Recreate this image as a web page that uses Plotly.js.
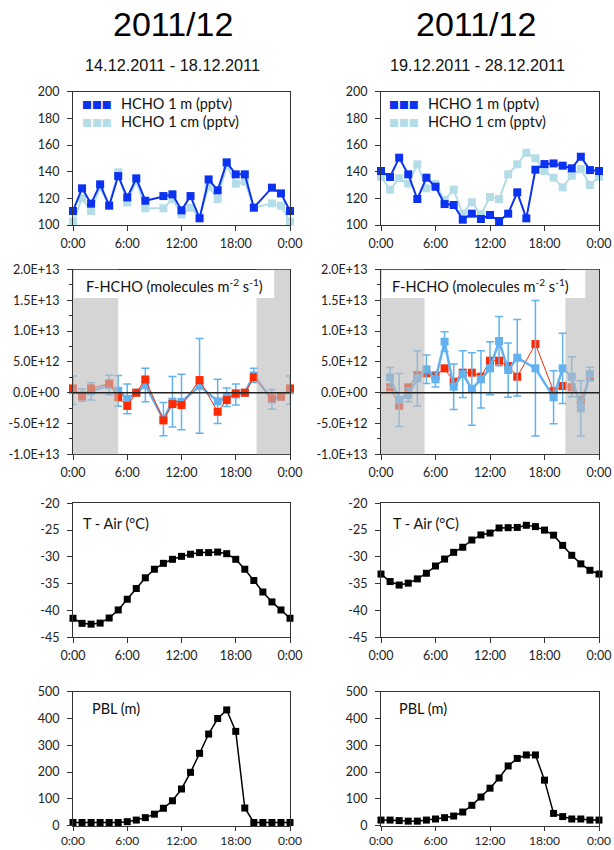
<!DOCTYPE html>
<html><head><meta charset="utf-8">
<script src="https://cdn.plot.ly/plotly-3.0.1.min.js"></script>
<style>html,body{margin:0;padding:0;background:#fff;}#chart{width:614px;height:850px;}</style>
</head><body><div id="chart"></div>
<script>
// ---------------- data ----------------
const hours = [0,1,2,3,4,5,6,7,8,9,10,11,12,13,14,15,16,17,18,19,20,21,22,23,24];
const hourTicks = [0,6,12,18,24];
const hourLabels = ['0:00','6:00','12:00','18:00','0:00'];

const titleText = '2011/12';
const periodLeft = '14.12.2011 - 18.12.2011';
const periodRight = '19.12.2011 - 28.12.2011';

// HCHO mixing ratio (pptv)
const hcho1mLeft  = [110.5,127.5,116,130.5,114.5,136.7,120.7,135,118.2,null,121.7,123,111,121.7,105,134.2,126,147,138,138,113,null,128,123.7,110.5];
const hcho1cmLeft = [102.5,120,110.5,128,115,139.5,117,133,112.5,null,112.5,119.5,108,113,106,128.7,119.5,145,131,132.5,113,null,116.2,114.5,102.5];
const hcho1mRight  = [140.5,136,150.5,138,119.5,135.5,128.7,115.7,115,104,108.5,104.5,107.5,103,108.5,124.5,105,141.5,145.7,146.2,144.5,142.5,151.2,141.2,140.5];
const hcho1cmRight = [136.2,126.5,135,131,145.5,127.5,130.7,118.7,126.5,108.5,117,108,121,119.5,138,145.5,154.2,150,140.5,135.5,128.2,137,142,130,136.2];
const hchoTicks = [100,120,140,160,180,200];

// F-HCHO flux (molecules m-2 s-1)
const fluxRedLeft  = [0.7e12,-0.6e12,0.7e12,null,1.5e12,-0.75e12,-2.15e12,0,2.15e12,null,-4.5e12,-1.85e12,-2.0e12,null,2.05e12,null,-3.1e12,-1.2e12,-0.1e12,0,2.5e12,null,-0.9e12,-0.65e12,0.7e12];
const fluxBlueLeft = [0.4e12,-0.4e12,0.2e12,null,1.25e12,0.3e12,-1.0e12,0,1.25e12,null,-4.3e12,-1.45e12,-1.5e12,null,1.1e12,null,-1.4e12,-0.75e12,-0.3e12,0,2.8e12,null,-1.1e12,-0.65e12,0.4e12];
const fluxErrLeft  = [2.3e12,1.0e12,1.4e12,null,1.6e12,2.5e12,2.4e12,0.3e12,2.7e12,null,2.7e12,4.1e12,4.5e12,null,7.7e12,null,3.6e12,1.5e12,1.7e12,0.3e12,1.15e12,null,1.6e12,0.3e12,2.3e12];
const fluxRedRight  = [null,0.87e12,-2.1e12,0.87e12,2.87e12,3.14e12,2.71e12,3.96e12,1.79e12,3.25e12,3.25e12,2.6e12,5.2e12,5.2e12,4.33e12,2.6e12,null,7.9e12,null,0.27e12,1.09e12,0.87e12,-1.19e12,2.5e12,null];
const fluxBlueRight = [null,2.5e12,-1.19e12,-0.37e12,2.33e12,3.8e12,2.17e12,8.28e12,0.97e12,3.03e12,0.6e12,2.17e12,3.96e12,8.39e12,3.68e12,5.68e12,null,3.96e12,null,-0.75e12,3.96e12,2.6e12,-2.54e12,3.03e12,null];
const fluxErrRight  = [null,1.6e12,4.3e12,1.1e12,4.5e12,2.3e12,1.25e12,1.6e12,3.7e12,3.8e12,5.9e12,4.65e12,4.3e12,4.0e12,4.4e12,6.2e12,null,11e12,null,4.3e12,5.7e12,3.25e12,4.5e12,1.1e12,null];
const fluxTicks = [-1e13,-5e12,0,5e12,1e13,1.5e13,2e13];
const fluxTickText = ['-1.0E+13','-5.0E+12','0.0E+00','5.0E+12','1.0E+13','1.5E+13','2.0E+13'];
const nightLeft  = [[0,5.0],[20.3,24]];
const nightRight = [[0,4.8],[20.3,24]];

// Air temperature (°C)
const tempLeft  = [-41.45,-42.4,-42.55,-42.35,-41.4,-39.9,-37.9,-35.9,-33.9,-32.3,-31.2,-30.45,-29.9,-29.5,-29.2,-29.2,-29.1,-29.4,-30.45,-32.3,-34.4,-36.55,-38.4,-39.9,-41.45];
const tempRight = [-33.2,-34.6,-35.25,-34.9,-34.1,-33.05,-31.7,-30.4,-29.15,-28.2,-26.85,-25.9,-25.55,-24.6,-24.55,-24.5,-24.1,-24.35,-25,-25.95,-27.85,-29.7,-31.3,-32.5,-33.2];
const tempTicks = [-45,-40,-35,-30,-25,-20];

// Boundary layer height (m)
const pblLeft  = [12,12,12,12,12,12,15,21,30,43,65,93,137,199,270,342,400,432,352,66,12,12,12,12,12];
const pblRight = [21,21,19,17,17,21,25,30,36,51,76,107,140,178,223,251,264,264,170,46,34,25,25,21,21];
const pblTicks = [0,100,200,300,400,500];

// ---------------- styling ----------------
const W = 614, H = 850;
const px = x => x / W;
const py = y => 1 - y / H;
const colL = [px(73), px(290)];
const colR = [px(381), px(599)];
const rowHcho = [py(225), py(91.7)];
const rowFlux = [py(454.3), py(269.5)];
const rowTemp = [py(637.3), py(503.3)];
const rowPbl  = [py(825.7), py(691.7)];

const DARK = '#0a32f0', LIGHT = '#b5dde8', RED = '#ff2a00', SKY = '#62b2f0';
const tickFont = {family:'Lato, Noto Sans, sans-serif', size:12.5, color:'#222'};
const labelFont = {family:'Lato, Noto Sans, sans-serif', size:14.5, color:'#111'};

function xax(domain, anchor, bottom){
  return {domain, anchor, range:[0,24], tickmode:'array', tickvals:hourTicks, ticktext:hourLabels,
    ticks:'outside', ticklen:bottom ? 4 : 5, tickcolor:'#333', showline:true, linecolor:'#333', linewidth:1,
    mirror:true, showgrid:false, zeroline:false,
    tickfont: bottom ? Object.assign({}, tickFont, {size:12}) : tickFont,
    ticklabelstandoff: bottom ? 0 : 2, fixedrange:true};
}
function yax(domain, anchor, range, vals, text, minor){
  const a = {domain, anchor, range, tickmode:'array', tickvals:vals, ticktext:text,
    ticks:'outside', ticklen:5, tickcolor:'#333', showline:true, linecolor:'#333', linewidth:1,
    mirror:true, showgrid:false, zeroline:false, tickfont:tickFont, ticklabelstandoff:5, fixedrange:true};
  if (minor) a.minor = {tickmode:'linear', tick0:0, dtick:minor, ticks:'outside', ticklen:3, tickcolor:'#333', showgrid:false};
  return a;
}
function lineTrace(y, xa, ya, color, width, msize){
  return {type:'scatter', mode:'lines+markers', x:hours, y, xaxis:xa, yaxis:ya, connectgaps:true,
    cliponaxis:false, line:{color, width}, marker:{symbol:'square', size:msize, color},
    showlegend:false, hoverinfo:'skip'};
}
function fluxBlue(y, err, xa, ya){
  const t = lineTrace(y, xa, ya, SKY, 2.5, 8);
  t.error_y = {type:'data', array:err, visible:true, color:SKY, thickness:1.5, width:4};
  return t;
}

const traces = [
  lineTrace(hcho1cmLeft, 'x', 'y', LIGHT, 2, 8),
  lineTrace(hcho1mLeft, 'x', 'y', DARK, 2, 8),
  lineTrace(hcho1cmRight, 'x2', 'y2', LIGHT, 2, 8),
  lineTrace(hcho1mRight, 'x2', 'y2', DARK, 2, 8),
  fluxBlue(fluxBlueLeft, fluxErrLeft, 'x3', 'y3'),
  lineTrace(fluxRedLeft, 'x3', 'y3', RED, 1, 8),
  lineTrace(fluxRedRight, 'x4', 'y4', RED, 1, 8),
  fluxBlue(fluxBlueRight, fluxErrRight, 'x4', 'y4'),
  lineTrace(tempLeft, 'x5', 'y5', '#000', 1.5, 7),
  lineTrace(tempRight, 'x6', 'y6', '#000', 1.5, 7),
  lineTrace(pblLeft, 'x7', 'y7', '#000', 1.5, 7),
  lineTrace(pblRight, 'x8', 'y8', '#000', 1.5, 7)
];

const shapes = [];
function fluxShapes(xa, ya, nights, boxRight){
  nights.forEach(n => shapes.push({type:'rect', xref:xa, yref:ya+' domain', x0:n[0], x1:n[1], y0:0, y1:1,
    fillcolor:'rgba(188,188,188,0.62)', line:{width:0}, layer:'above'}));
  shapes.push({type:'rect', xref:xa+' domain', yref:ya+' domain', x0:0.004, x1:boxRight, y0:0.846, y1:0.996,
    fillcolor:'#ffffff', line:{width:0}, layer:'above'});
  shapes.push({type:'line', xref:xa+' domain', yref:ya, x0:0, x1:1, y0:0, y1:0,
    line:{color:'#222', width:1.5}, layer:'above'});
}
fluxShapes('x3', 'y3', nightLeft, 0.927);
fluxShapes('x4', 'y4', nightRight, 0.937);

const ann = [];
function text(t, x, y, font, xanchor){
  ann.push({text:t, x:px(x), y:py(y), xref:'paper', yref:'paper', showarrow:false,
    xanchor:xanchor||'left', yanchor:'middle', font});
}
const titleFont = {family:'Liberation Sans, Arial, sans-serif', size:34, color:'#000'};
const subFont = {family:'Liberation Sans, Arial, sans-serif', size:16.3, color:'#111'};
text(titleText, 173, 24, titleFont, 'center');
text(titleText, 476, 24, titleFont, 'center');
text(periodLeft, 172, 65, subFont, 'center');
text(periodRight, 477, 65, subFont, 'center');

// legends
const symFont = c => ({family:'DejaVu Sans, sans-serif', size:10.5, color:c});
text('■■■', 80, 103.5, symFont(DARK));
text('HCHO 1 m (pptv)', 119, 103.5, labelFont);
text('■■■', 80, 121.5, symFont(LIGHT));
text('HCHO 1 cm (pptv)', 119, 121.5, labelFont);
text('■■■', 387, 103.5, symFont(DARK));
text('HCHO 1 m (pptv)', 426, 103.5, labelFont);
text('■■■', 387, 121.5, symFont(LIGHT));
text('HCHO 1 cm (pptv)', 426, 121.5, labelFont);

const fluxLabel = 'F-HCHO (molecules m<sup>-2</sup> s<sup>-1</sup>)';
text(fluxLabel, 84, 286, labelFont);
text(fluxLabel, 390, 286, labelFont);
text('T - Air (°C)', 81, 523, labelFont);
text('T - Air (°C)', 391, 523, labelFont);
text('PBL (m)', 90, 708, labelFont);
text('PBL (m)', 397, 708, labelFont);

const layout = {
  width:W, height:H, margin:{l:0,r:0,t:0,b:0}, paper_bgcolor:'#fff', plot_bgcolor:'#fff',
  showlegend:false,
  xaxis: xax(colL,'y'),  yaxis: yax(rowHcho,'x',[100,200],hchoTicks,hchoTicks.map(String)),
  xaxis2:xax(colR,'y2'), yaxis2:yax(rowHcho,'x2',[100,200],hchoTicks,hchoTicks.map(String)),
  xaxis3:xax(colL,'y3'), yaxis3:yax(rowFlux,'x3',[-1e13,2e13],fluxTicks,fluxTickText,2.5e12),
  xaxis4:xax(colR,'y4'), yaxis4:yax(rowFlux,'x4',[-1e13,2e13],fluxTicks,fluxTickText,2.5e12),
  xaxis5:xax(colL,'y5'), yaxis5:yax(rowTemp,'x5',[-45,-20],tempTicks,tempTicks.map(String)),
  xaxis6:xax(colR,'y6'), yaxis6:yax(rowTemp,'x6',[-45,-20],tempTicks,tempTicks.map(String)),
  xaxis7:xax(colL,'y7',true), yaxis7:yax(rowPbl,'x7',[0,500],pblTicks,pblTicks.map(String)),
  xaxis8:xax(colR,'y8',true), yaxis8:yax(rowPbl,'x8',[0,500],pblTicks,pblTicks.map(String)),
  shapes, annotations:ann
};
Plotly.newPlot('chart', traces, layout, {staticPlot:true, displayModeBar:false});
</script></body></html>
